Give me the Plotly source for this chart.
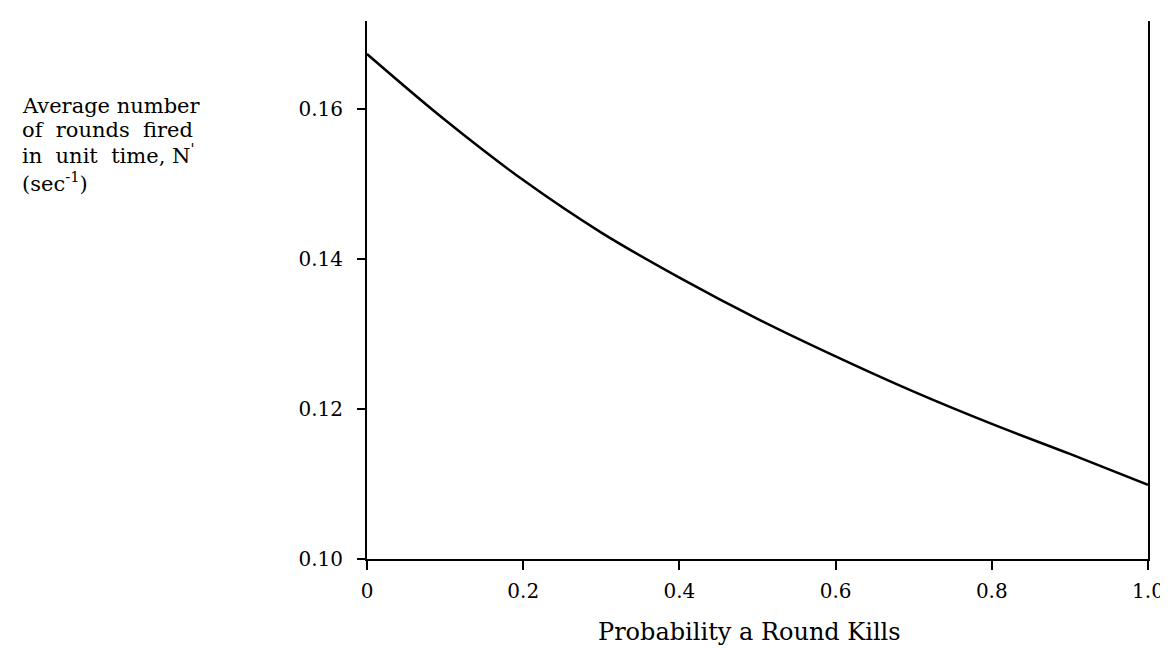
import plotly.graph_objects as go

# Data
p_kill = [0.0, 0.1, 0.2, 0.3, 0.4, 0.5, 0.6, 0.7, 0.8, 0.9, 1.0]
rounds_rate = [0.1673, 0.1585, 0.1505, 0.1435, 0.1375, 0.1320, 0.1270, 0.1223, 0.1180, 0.1140, 0.1099]

x_ticks = [0, 0.2, 0.4, 0.6, 0.8, 1.0]
x_tick_labels = ["0", "0.2", "0.4", "0.6", "0.8", "1.0"]
y_ticks = [0.10, 0.12, 0.14, 0.16]
y_tick_labels = ["0.10", "0.12", "0.14", "0.16"]

ylabel_lines = ["Average number", "of  rounds  fired", "in  unit  time, N<sup>'</sup>", "(sec<sup>-1</sup>)"]
xlabel = "Probability a Round Kills"

FONT = "DejaVu Serif"

fig = go.Figure()
fig.add_trace(go.Scatter(x=p_kill, y=rounds_rate, mode="lines", line=dict(color="black", width=2.5, shape="spline"),
                         showlegend=False, hoverinfo="skip"))

W, H = 1168, 649
L, R, T, B = 359, 28, 13, 98

fig.update_layout(
    width=W, height=H,
    margin=dict(l=L, r=R, t=T, b=B),
    paper_bgcolor="white", plot_bgcolor="white",
    font=dict(family=FONT, color="black", size=20),
    xaxis=dict(range=[0, 1.0], tickvals=x_ticks, ticktext=x_tick_labels, showgrid=False, zeroline=False,
               showline=True, linecolor="black", linewidth=2, ticks="outside", ticklen=9, tickwidth=2,
               tickcolor="black", tickfont=dict(family=FONT, size=20), mirror=False, ticklabelstandoff=4),
    yaxis=dict(range=[0.10, 0.1717], tickvals=y_ticks, ticktext=y_tick_labels, showgrid=False, zeroline=False,
               showline=True, linecolor="black", linewidth=2, ticks="outside", ticklen=8, tickwidth=2,
               tickcolor="black", tickfont=dict(family=FONT, size=20), mirror=True, ticklabelstandoff=10),
)

plot_w = W - L - R
plot_h = H - T - B
line_centers = [98, 122, 146, 174]
for txt, yc in zip(ylabel_lines, line_centers):
    fig.add_annotation(text=txt, xref="paper", yref="paper", x=(12 - L) / plot_w, y=(H - B - yc) / plot_h,
                       xanchor="left", yanchor="middle", showarrow=False, align="left",
                       font=dict(family=FONT, size=21, color="black"))

fig.add_annotation(text=xlabel, xref="paper", yref="paper", x=0.49, y=-(624 - (H - B)) / plot_h,
                   xanchor="center", yanchor="middle", showarrow=False,
                   font=dict(family=FONT, size=24, color="black"))

fig.write_html("out.html")
